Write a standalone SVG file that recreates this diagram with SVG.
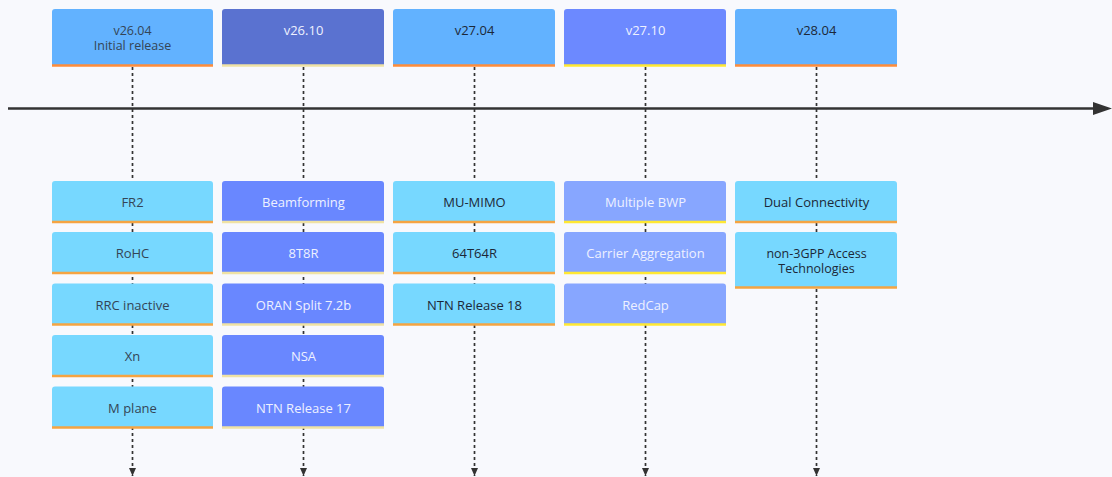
<svg xmlns="http://www.w3.org/2000/svg" width="1112" height="477" viewBox="0 0 1112 477">
<defs>
<marker id="arrV" markerUnits="userSpaceOnUse" markerWidth="9" markerHeight="8" refX="8" refY="4" orient="auto" viewBox="0 0 9 8">
<path d="M0,0.5 L8,4 L0,7.5 Z" fill="#333"/>
</marker>
<style>
text{font-family:"Open Sans","Noto Sans","Liberation Sans",sans-serif;font-size:13px;font-weight:500;text-anchor:middle}
.sm{font-size:12.5px}
.dash{stroke:#333;stroke-width:1.7;stroke-dasharray:3,3;fill:none}
.pA{fill:#62b2ff}.pB{fill:#5a72d0}.pC{fill:#6c89ff}
.eA{fill:#77d8ff}.eB{fill:#6987ff}.eC{fill:#87a6ff}
.bO{stroke:#f5a442;stroke-width:2.5}.bP{stroke:#efe2a4;stroke-width:2.5}.bY{stroke:#ffe833;stroke-width:2.5}.bR{stroke:#ff8c3a;stroke-width:2.5}
.tD{fill:#344556}.tK{fill:#1c2838}.tL{fill:#eef1ff}
</style>
</defs>
<rect width="1112" height="477" fill="#f8f9fd"/>
<g id="connectors">
<line x1="8" y1="108.5" x2="1096" y2="108.5" stroke="#333" stroke-width="2.6"/>
<path d="M1093,102 L1112,108.5 L1093,115 Z" fill="#333"/>
<line class="dash" x1="132.5" y1="67" x2="132.5" y2="476" marker-end="url(#arrV)"/>
<line class="dash" x1="303.5" y1="67" x2="303.5" y2="476" marker-end="url(#arrV)"/>
<line class="dash" x1="474.5" y1="67" x2="474.5" y2="476" marker-end="url(#arrV)"/>
<line class="dash" x1="645.5" y1="67" x2="645.5" y2="476" marker-end="url(#arrV)"/>
<line class="dash" x1="816.5" y1="67" x2="816.5" y2="476" marker-end="url(#arrV)"/>
</g>
<g id="period-v26-04"><path class="pA" d="M52,66 V12 Q52,9 55,9 H210 Q213,9 213,12 V66 Z"/><line class="bR" x1="52" y1="65.5" x2="213" y2="65.5"/><text class="tD sm" x="132.5" y="35">v26.04</text><text class="tD sm" x="132.5" y="50">Initial release</text></g>
<g id="period-v26-10"><path class="pB" d="M222,66 V12 Q222,9 225,9 H381 Q384,9 384,12 V66 Z"/><line class="bP" x1="222" y1="65.5" x2="384" y2="65.5"/><text class="tL" x="303.5" y="35">v26.10</text></g>
<g id="period-v27-04"><path class="pA" d="M393,66 V12 Q393,9 396,9 H552 Q555,9 555,12 V66 Z"/><line class="bR" x1="393" y1="65.5" x2="555" y2="65.5"/><text class="tK" x="474.5" y="35">v27.04</text></g>
<g id="period-v27-10"><path class="pC" d="M564,66 V12 Q564,9 567,9 H723 Q726,9 726,12 V66 Z"/><line class="bY" x1="564" y1="65.5" x2="726" y2="65.5"/><text class="tL" x="645.5" y="35">v27.10</text></g>
<g id="period-v28-04"><path class="pA" d="M735,66 V12 Q735,9 738,9 H894 Q897,9 897,12 V66 Z"/><line class="bR" x1="735" y1="65.5" x2="897" y2="65.5"/><text class="tK" x="816.5" y="35">v28.04</text></g>

<g id="ev-fr2"><path class="eA" d="M52,222 V184 Q52,181 55,181 H210 Q213,181 213,184 V222 Z"/><line class="bO" x1="52" y1="222" x2="213" y2="222"/><text class="tD" x="132.5" y="207">FR2</text></g>
<g id="ev-rohc"><path class="eA" d="M52,273 V235 Q52,232 55,232 H210 Q213,232 213,235 V273 Z"/><line class="bO" x1="52" y1="273" x2="213" y2="273"/><text class="tD" x="132.5" y="258">RoHC</text></g>
<g id="ev-rrc"><path class="eA" d="M52,324.5 V286.5 Q52,283.5 55,283.5 H210 Q213,283.5 213,286.5 V324.5 Z"/><line class="bO" x1="52" y1="324.5" x2="213" y2="324.5"/><text class="tD" x="132.5" y="309.5">RRC inactive</text></g>
<g id="ev-xn"><path class="eA" d="M52,376 V338 Q52,335 55,335 H210 Q213,335 213,338 V376 Z"/><line class="bO" x1="52" y1="376" x2="213" y2="376"/><text class="tD" x="132.5" y="361">Xn</text></g>
<g id="ev-mplane"><path class="eA" d="M52,427.5 V389.5 Q52,386.5 55,386.5 H210 Q213,386.5 213,389.5 V427.5 Z"/><line class="bO" x1="52" y1="427.5" x2="213" y2="427.5"/><text class="tD" x="132.5" y="412.5">M plane</text></g>

<g id="ev-beam"><path class="eB" d="M222,222 V184 Q222,181 225,181 H381 Q384,181 384,184 V222 Z"/><line class="bP" x1="222" y1="222" x2="384" y2="222"/><text class="tL" x="303.5" y="207">Beamforming</text></g>
<g id="ev-8t8r"><path class="eB" d="M222,273 V235 Q222,232 225,232 H381 Q384,232 384,235 V273 Z"/><line class="bP" x1="222" y1="273" x2="384" y2="273"/><text class="tL" x="303.5" y="258">8T8R</text></g>
<g id="ev-oran"><path class="eB" d="M222,324.5 V286.5 Q222,283.5 225,283.5 H381 Q384,283.5 384,286.5 V324.5 Z"/><line class="bP" x1="222" y1="324.5" x2="384" y2="324.5"/><text class="tL" x="303.5" y="309.5">ORAN Split 7.2b</text></g>
<g id="ev-nsa"><path class="eB" d="M222,376 V338 Q222,335 225,335 H381 Q384,335 384,338 V376 Z"/><line class="bP" x1="222" y1="376" x2="384" y2="376"/><text class="tL" x="303.5" y="361">NSA</text></g>
<g id="ev-ntn17"><path class="eB" d="M222,427.5 V389.5 Q222,386.5 225,386.5 H381 Q384,386.5 384,389.5 V427.5 Z"/><line class="bP" x1="222" y1="427.5" x2="384" y2="427.5"/><text class="tL" x="303.5" y="412.5">NTN Release 17</text></g>

<g id="ev-mumimo"><path class="eA" d="M393,222 V184 Q393,181 396,181 H552 Q555,181 555,184 V222 Z"/><line class="bO" x1="393" y1="222" x2="555" y2="222"/><text class="tK" x="474.5" y="207">MU-MIMO</text></g>
<g id="ev-64t64r"><path class="eA" d="M393,273 V235 Q393,232 396,232 H552 Q555,232 555,235 V273 Z"/><line class="bO" x1="393" y1="273" x2="555" y2="273"/><text class="tK" x="474.5" y="258">64T64R</text></g>
<g id="ev-ntn18"><path class="eA" d="M393,324.5 V286.5 Q393,283.5 396,283.5 H552 Q555,283.5 555,286.5 V324.5 Z"/><line class="bO" x1="393" y1="324.5" x2="555" y2="324.5"/><text class="tK" x="474.5" y="309.5">NTN Release 18</text></g>

<g id="ev-bwp"><path class="eC" d="M564,222 V184 Q564,181 567,181 H723 Q726,181 726,184 V222 Z"/><line class="bY" x1="564" y1="222" x2="726" y2="222"/><text class="tL" x="645.5" y="207">Multiple BWP</text></g>
<g id="ev-ca"><path class="eC" d="M564,273 V235 Q564,232 567,232 H723 Q726,232 726,235 V273 Z"/><line class="bY" x1="564" y1="273" x2="726" y2="273"/><text class="tL" x="645.5" y="258">Carrier Aggregation</text></g>
<g id="ev-redcap"><path class="eC" d="M564,324.5 V286.5 Q564,283.5 567,283.5 H723 Q726,283.5 726,286.5 V324.5 Z"/><line class="bY" x1="564" y1="324.5" x2="726" y2="324.5"/><text class="tL" x="645.5" y="309.5">RedCap</text></g>

<g id="ev-dc"><path class="eA" d="M735,222 V184 Q735,181 738,181 H894 Q897,181 897,184 V222 Z"/><line class="bO" x1="735" y1="222" x2="897" y2="222"/><text class="tK" x="816.5" y="207">Dual Connectivity</text></g>
<g id="ev-non3gpp"><path class="eA" d="M735,287.5 V235 Q735,232 738,232 H894 Q897,232 897,235 V287.5 Z"/><line class="bO" x1="735" y1="287.5" x2="897" y2="287.5"/><text class="tK sm" x="816.5" y="258">non-3GPP Access</text><text class="tK sm" x="816.5" y="273">Technologies</text></g>
</svg>
